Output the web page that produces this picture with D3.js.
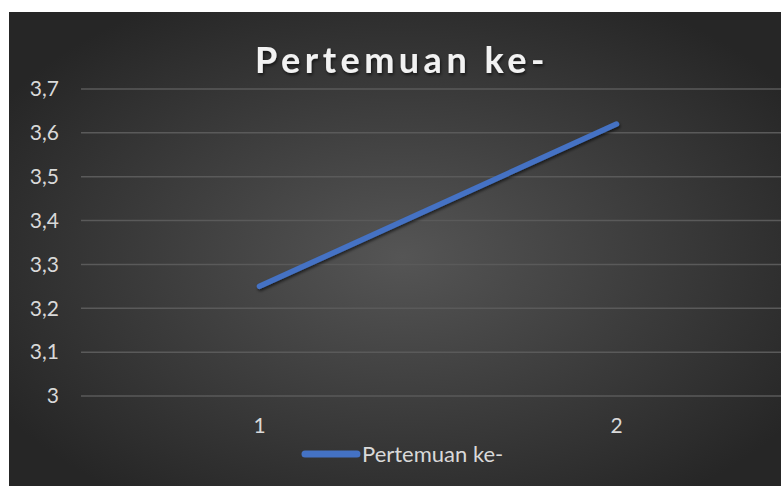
<!DOCTYPE html>
<html>
<head>
<meta charset="utf-8">
<script src="https://cdn.jsdelivr.net/npm/d3@7"></script>
<style>
  body { margin: 0; background: #fff; }
  svg { display: block; }
  text { font-family: Lato, "Open Sans", sans-serif; }
</style>
</head>
<body>
<div id="chart"></div>
<script>
// data
let categories = ["1", "2"];
let values = [3.25, 3.62];
let yTicks = [3, 3.1, 3.2, 3.3, 3.4, 3.5, 3.6, 3.7];
let seriesName = "Pertemuan ke-";
let title = "Pertemuan ke-";

let W = 781, H = 486;
let margin = { top: 89, right: 795, bottom: 396, left: 81 };

let svg = d3.select("#chart").append("svg")
    .attr("width", W)
    .attr("height", H);

let defs = svg.append("defs");
let grad = defs.append("radialGradient")
    .attr("id", "bg")
    .attr("cx", "50%").attr("cy", "50%").attr("r", "60%");
grad.append("stop").attr("offset", "0%").attr("stop-color", "#555555");
grad.append("stop").attr("offset", "100%").attr("stop-color", "#262626");

let shadow = defs.append("filter").attr("id", "shadow")
    .attr("x", "-10%").attr("y", "-10%").attr("width", "120%").attr("height", "130%");
shadow.append("feDropShadow")
    .attr("dx", 1).attr("dy", 2).attr("stdDeviation", 1.5)
    .attr("flood-color", "#000").attr("flood-opacity", 0.6);

// chart area background
svg.append("rect")
    .attr("x", 9).attr("y", 12)
    .attr("width", 786).attr("height", 490)
    .attr("fill", "url(#bg)");

// scales
let x = d3.scaleBand()
    .domain(categories)
    .range([margin.left, margin.right]);

let y = d3.scaleLinear()
    .domain([3, 3.7])
    .range([margin.bottom, margin.top]);

let fmt = d => String(d).replace(".", ",");

// gridlines
svg.append("g")
    .selectAll("line")
    .data(yTicks)
    .enter()
    .append("line")
    .attr("x1", margin.left)
    .attr("x2", margin.right)
    .attr("y1", d => y(d))
    .attr("y2", d => y(d))
    .attr("stroke", "#5a5a5a")
    .attr("stroke-width", 1.5);

// y axis labels
let yAxis = svg.append("g")
    .attr("transform", "translate(" + (margin.left - 22) + ",0)")
    .call(d3.axisLeft(y).tickValues(yTicks).tickFormat(fmt).tickSize(0).tickPadding(0));
yAxis.select(".domain").remove();
yAxis.selectAll("text")
    .attr("fill", "#d9d9d9")
    .style("font-size", "21px");

// x axis labels
let xAxis = svg.append("g")
    .attr("transform", "translate(0," + (margin.bottom + 22) + ")")
    .call(d3.axisBottom(x).tickSize(0).tickPadding(0));
xAxis.select(".domain").remove();
xAxis.selectAll("text")
    .attr("fill", "#d9d9d9")
    .style("font-size", "21px");

// the line
let pts = categories.map((c, i) => ({ c: c, v: values[i] }));
svg.append("path")
    .datum(pts)
    .attr("fill", "none")
    .attr("stroke", "#4472C4")
    .attr("stroke-width", 5.5)
    .attr("stroke-linecap", "round")
    .attr("filter", "url(#shadow)")
    .attr("d", d3.line()
        .x(d => x(d.c) + x.bandwidth() / 2)
        .y(d => y(d.v))
    );

// title
svg.append("text")
    .attr("x", 402)
    .attr("y", 72.5)
    .attr("text-anchor", "middle")
    .attr("fill", "#f2f2f2")
    .attr("filter", "url(#shadow)")
    .style("font-size", "36px")
    .style("font-weight", "bold")
    .style("letter-spacing", "4.5px")
    .text(title);

// legend
let legend = svg.append("g").attr("transform", "translate(302,454)");
legend.append("line")
    .attr("x1", 3).attr("x2", 55)
    .attr("y1", 0).attr("y2", 0)
    .attr("stroke", "#4472C4")
    .attr("stroke-width", 7)
    .attr("stroke-linecap", "round");
legend.append("text")
    .attr("x", 60)
    .attr("y", 7.5)
    .attr("fill", "#d9d9d9")
    .style("font-size", "22px")
    .text(seriesName);
</script>
</body>
</html>
